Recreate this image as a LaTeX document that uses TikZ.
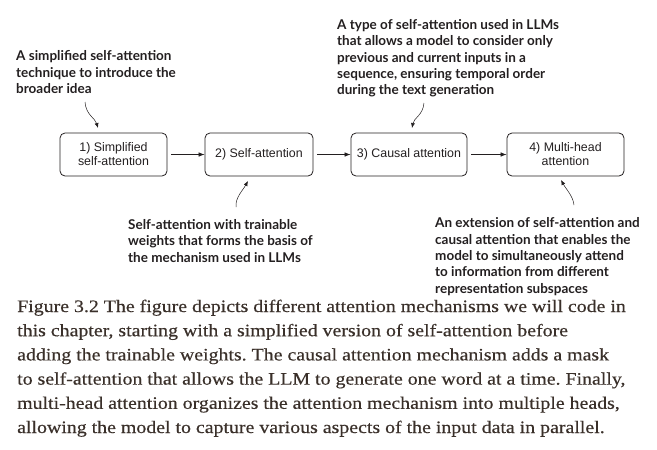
\documentclass[tikz,border=0pt]{standalone}
\usepackage{fontspec}
\setmainfont{Liberation Serif}
\newfontfamily\capfont{Liberation Serif}[FakeStretch=1.135,FakeBold=0.4]
\newfontfamily\boxfont{Liberation Sans}
\newfontfamily\notefont{Lato}
\usetikzlibrary{arrows.meta}
\definecolor{capcol}{RGB}{58,48,42}
\definecolor{inkcol}{RGB}{35,31,32}
\frenchspacing
\begin{document}
\begin{tikzpicture}[x=1pt,y=-1pt,
  stage/.style={draw=inkcol, rounded corners=5pt, line width=0.8pt, minimum height=43pt,
    font=\boxfont\fontsize{12.4}{14}\selectfont, align=center, inner sep=0pt, text=inkcol},
  note/.style={anchor=north west, align=left, inner sep=0pt, text=inkcol,
    font=\notefont\bfseries\fontsize{13.5}{16.4}\selectfont},
  flow/.style={-{Latex[length=6pt,width=4.5pt]}, line width=0.7pt, draw=inkcol, shorten <=4pt},
  pointer/.style={-{Latex[length=5pt,width=4pt]}, line width=0.5pt, draw=inkcol}]
\useasboundingbox (0,0) rectangle (657,450);

\node[stage, minimum width=107pt] (b1) at (113.5,154.5) {1) Simplified\\self-attention};
\node[stage, minimum width=108pt] (b2) at (259,154.5) {2) Self-attention};
\node[stage, minimum width=116pt] (b3) at (409,154.5) {3) Causal attention};
\node[stage, minimum width=117pt] (b4) at (565.5,154.5) {4) Multi-head\\attention};

\draw[flow] (b1) -- (b2);
\draw[flow] (b2) -- (b3);
\draw[flow] (b3) -- (b4);

\node[note] (n1) at (16,50.5) {A simplified self-attention\\technique to introduce the\\broader idea};
\node[note] (n2) at (337,19) {A type of self-attention used in LLMs\\that allows a model to consider only\\previous and current inputs in a\\sequence, ensuring temporal order\\during the text generation};
\node[note] (n3) at (128,219) {Self-attention with trainable\\weights that forms the basis of\\the mechanism used in LLMs};
\node[note] (n4) at (435,217.5) {An extension of self-attention and\\causal attention that enables the\\model to simultaneously attend\\to information from different\\representation subspaces};

\coordinate (t1) at (85,102);  \coordinate (h1) at (98,128);
\coordinate (t2) at (424,103); \coordinate (h2) at (412,128);
\coordinate (t3) at (236,207); \coordinate (h3) at (248,181);
\coordinate (t4) at (574,205); \coordinate (h4) at (561,180);
\draw[pointer] (t1) .. controls (86,115) and (95,118) .. (h1);
\draw[pointer] (t2) .. controls (423,115) and (414,118) .. (h2);
\draw[pointer] (t3) .. controls (235,198) and (243,190) .. (h3);
\draw[pointer] (t4) .. controls (573,196) and (566,189) .. (h4);

\node[anchor=north west, align=left, inner sep=0pt, text=capcol,
  font=\capfont\fontsize{17.5}{24.2}\selectfont] (cap) at (17,299.5)
  {Figure 3.2 The figure depicts different attention mechanisms we will code in\\
   this chapter, starting with a simplified version of self-attention before\\
   adding the trainable weights. The causal attention mechanism adds a mask\\
   to self-attention that allows the LLM to generate one word at a time. Finally,\\
   multi-head attention organizes the attention mechanism into multiple heads,\\
   allowing the model to capture various aspects of the input data in parallel.};
\end{tikzpicture}
\end{document}
